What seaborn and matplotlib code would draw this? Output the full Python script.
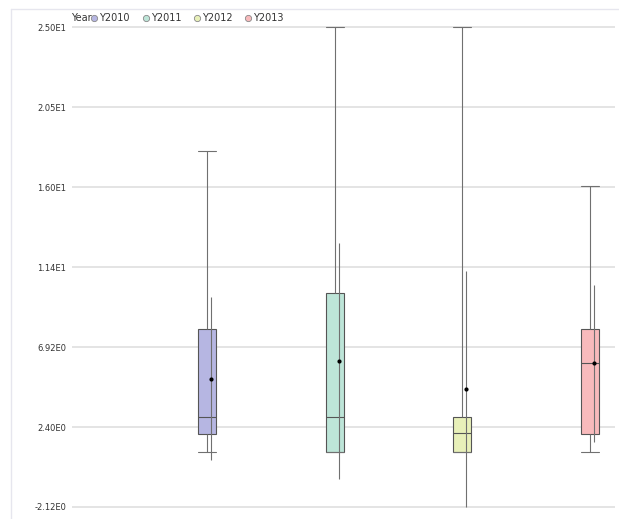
import matplotlib
matplotlib.use("Agg")
import matplotlib.pyplot as plt
import numpy as np
import pandas as pd
import seaborn as sns
from matplotlib.lines import Line2D

years = ["Y2010", "Y2011", "Y2012", "Y2013"]
colors = ["#b6b6e2", "#bde5d8", "#e8f0b9", "#f8babc"]
mins = [0.97, 0.97, 0.97, 0.97]
q1s = [2.0, 0.97, 0.97, 2.0]
medians = [2.98, 2.98, 2.05, 6.0]
q3s = [7.94, 10.0, 2.98, 7.96]
maxs = [18.0, 25.0, 25.0, 16.03]
means = [5.13, 6.15, 4.56, 6.0]
sds = [4.62, 6.67, 6.68, 4.42]
tick_vals = [-2.12, 2.40, 6.92, 11.44, 15.96, 20.48, 25.0]
tick_labels = ["-2.12E0", "2.40E0", "6.92E0", "1.14E1", "1.60E1", "2.05E1", "2.50E1"]


def main():
    # five summary values per year -> percentiles of these reproduce the box exactly
    rows = []
    for y, a, b, c, d, e in zip(years, mins, q1s, medians, q3s, maxs):
        for v in (a, b, c, d, e):
            rows.append({"Year": y, "value": v})
    df = pd.DataFrame(rows)

    sns.set_theme(style="white")
    plt.rcParams["font.family"] = ["DejaVu Sans"]

    fig = plt.figure(figsize=(6.19, 5.19), dpi=100)
    ax = fig.add_axes([72 / 619, 0.017, (615 - 72) / 619, 0.9377])

    for t in tick_vals:
        ax.axhline(t, color="#e2e2e2", lw=1.3, zorder=0)

    sns.boxplot(
        data=df,
        x="Year",
        y="value",
        hue="Year",
        palette=colors,
        order=years,
        hue_order=years,
        whis=(0, 100),
        width=0.14,
        saturation=1,
        showfliers=False,
        linecolor="#555555",
        linewidth=0.8,
        legend=False,
        ax=ax,
        whiskerprops=dict(color="#707070"),
        capprops=dict(color="#707070"),
        capwidths=0.14,
    )

    # mean +/- std dev line with mean marker
    pos = np.arange(len(years)) + 0.032
    lo = [m - s for m, s in zip(means, sds)]
    hi = [m + s for m, s in zip(means, sds)]
    ax.vlines(pos, lo, hi, color="#707070", lw=0.8, zorder=4)
    ax.scatter(pos, means, s=9, color="black", zorder=5, linewidths=0)

    ax.set_xlim(-1.057, 3.196)
    ax.set_ylim(-2.3, 25.2)
    ax.set_yticks(tick_vals)
    ax.set_yticklabels(tick_labels)
    ax.set_xticks([])
    ax.set_xlabel("")
    ax.set_ylabel("")
    ax.tick_params(axis="y", length=0, pad=4, labelsize=6, labelcolor="#333333")
    for sp in ax.spines.values():
        sp.set_visible(False)

    # outer frame lines
    fig.add_artist(Line2D([11 / 619, 1], [1 - 9 / 519, 1 - 9 / 519], color="#e6e6ee", lw=1))
    fig.add_artist(Line2D([11 / 619, 11 / 619], [0, 1 - 9 / 519], color="#e6e6ee", lw=1))

    # legend row
    ly = 1 - 18 / 519
    fig.text(71 / 619, ly, "Year", fontsize=7, color="#333333", va="center", ha="left")
    mx = [94, 146, 197, 248]
    for x, y, c in zip(mx, years, colors):
        fig.add_artist(Line2D([x / 619], [ly], marker="o", markersize=4.5,
                              markerfacecolor=c, markeredgecolor="#888888",
                              markeredgewidth=0.6, linestyle="none"))
        fig.text((x + 5) / 619, ly, y, fontsize=7, color="#333333", va="center", ha="left")

    fig.savefig("out.png", dpi=100)


if __name__ == "__main__":
    main()
